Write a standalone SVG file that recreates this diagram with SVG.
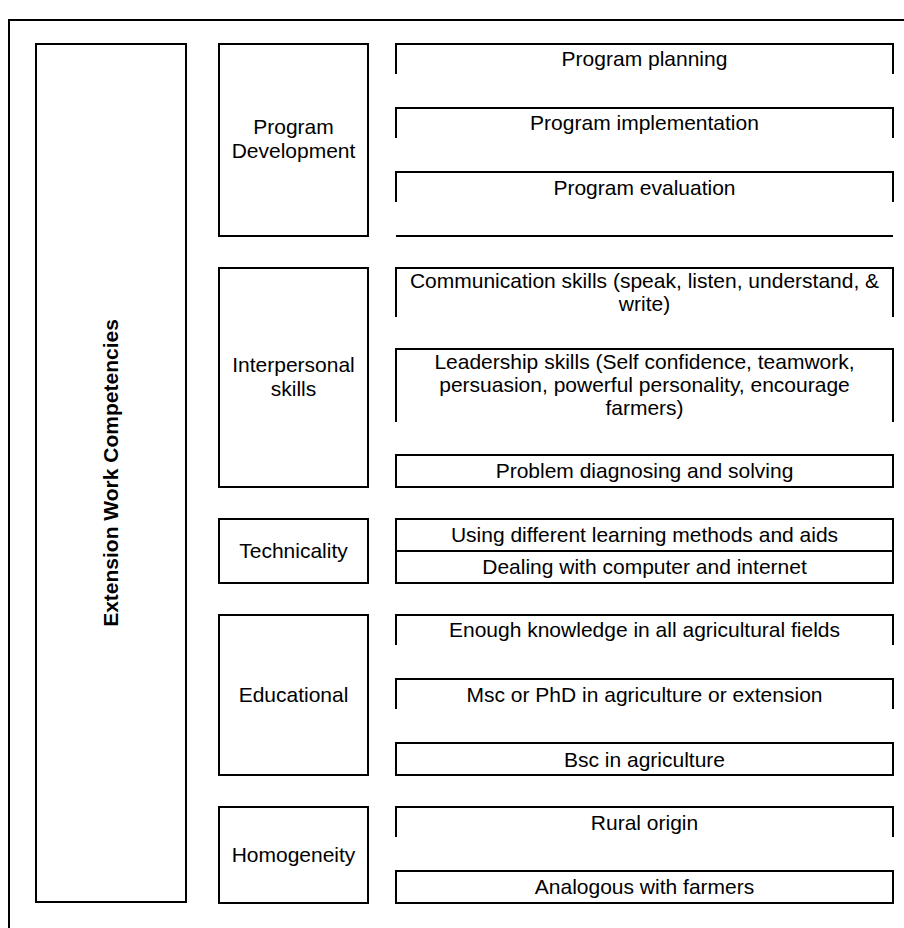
<svg xmlns="http://www.w3.org/2000/svg" width="904" height="928" viewBox="0 0 904 928">
<style>
  .ln { fill: none; stroke: #000; stroke-width: 2; stroke-linejoin: miter; stroke-linecap: butt; }
  .bx { fill: #fff; stroke: #000; stroke-width: 2; }
  .t { font-family: "Liberation Sans", Arial, sans-serif; font-size: 21px; fill: #000; text-anchor: middle; }
  .b { font-weight: bold; }
</style>
<rect x="0" y="0" width="904" height="928" fill="#fff"/>
<path id="frame" class="ln" d="M9,928 V20 H904"/>

<g id="main">
  <rect class="bx" x="36" y="44" width="150" height="858"/>
  <text class="t b" transform="translate(118,473) rotate(-90)" x="0" y="0">Extension Work Competencies</text>
</g>

<g id="cat-program-development">
  <rect class="bx" x="219" y="44" width="149" height="192"/>
  <text class="t" x="293.5" y="134">Program</text>
  <text class="t" x="293.5" y="158">Development</text>
</g>
<g id="cat-interpersonal">
  <rect class="bx" x="219" y="268" width="149" height="219"/>
  <text class="t" x="293.5" y="372">Interpersonal</text>
  <text class="t" x="293.5" y="396">skills</text>
</g>
<g id="cat-technicality">
  <rect class="bx" x="219" y="519" width="149" height="64"/>
  <text class="t" x="293.5" y="558">Technicality</text>
</g>
<g id="cat-educational">
  <rect class="bx" x="219" y="615" width="149" height="160"/>
  <text class="t" x="293.5" y="702">Educational</text>
</g>
<g id="cat-homogeneity">
  <rect class="bx" x="219" y="807" width="149" height="96"/>
  <text class="t" x="293.5" y="862">Homogeneity</text>
</g>

<g id="item-program-planning">
  <path class="ln" d="M396,74 V44 H893 V74"/>
  <text class="t" x="644.5" y="66">Program planning</text>
</g>
<g id="item-program-implementation">
  <path class="ln" d="M396,138 V108 H893 V138"/>
  <text class="t" x="644.5" y="130">Program implementation</text>
</g>
<g id="item-program-evaluation">
  <path class="ln" d="M396,202 V172 H893 V202"/>
  <text class="t" x="644.5" y="195">Program evaluation</text>
</g>
<g id="item-program-baseline">
  <path class="ln" d="M396,236 H893"/>
</g>
<g id="item-communication">
  <path class="ln" d="M396,317 V268 H893 V317"/>
  <text class="t" x="644.5" y="288">Communication skills (speak, listen, understand, &amp;</text>
  <text class="t" x="644.5" y="311">write)</text>
</g>
<g id="item-leadership">
  <path class="ln" d="M396,422 V349 H893 V422"/>
  <text class="t" x="644.5" y="369">Leadership skills (Self confidence, teamwork,</text>
  <text class="t" x="644.5" y="392">persuasion, powerful personality, encourage</text>
  <text class="t" x="644.5" y="415">farmers)</text>
</g>
<g id="item-problem">
  <rect class="bx" x="396" y="455" width="497" height="32"/>
  <text class="t" x="644.5" y="478">Problem diagnosing and solving</text>
</g>
<g id="item-learning-methods">
  <rect class="bx" x="396" y="519" width="497" height="32"/>
  <text class="t" x="644.5" y="542">Using different learning methods and aids</text>
</g>
<g id="item-computer">
  <rect class="bx" x="396" y="551" width="497" height="32"/>
  <text class="t" x="644.5" y="574">Dealing with computer and internet</text>
</g>
<g id="item-knowledge">
  <path class="ln" d="M396,645 V615 H893 V645"/>
  <text class="t" x="644.5" y="637">Enough knowledge in all agricultural fields</text>
</g>
<g id="item-msc">
  <path class="ln" d="M396,709 V679 H893 V709"/>
  <text class="t" x="644.5" y="702">Msc or PhD in agriculture or extension</text>
</g>
<g id="item-bsc">
  <rect class="bx" x="396" y="743" width="497" height="32"/>
  <text class="t" x="644.5" y="767">Bsc in agriculture</text>
</g>
<g id="item-rural">
  <path class="ln" d="M396,837 V807 H893 V837"/>
  <text class="t" x="644.5" y="830">Rural origin</text>
</g>
<g id="item-analogous">
  <rect class="bx" x="396" y="871" width="497" height="32"/>
  <text class="t" x="644.5" y="894">Analogous with farmers</text>
</g>
<g id="connectors"></g>
</svg>
